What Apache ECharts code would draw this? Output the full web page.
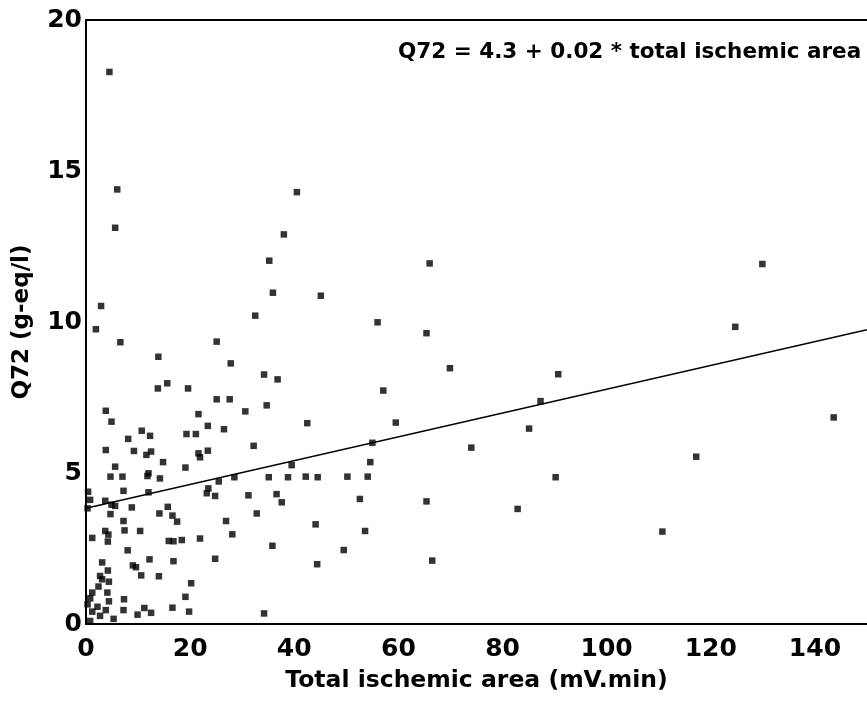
<!DOCTYPE html>
<html>
<head>
<meta charset="utf-8">
<title>Q72 vs total ischemic area</title>
<script src="https://cdn.jsdelivr.net/npm/echarts@6/dist/echarts.min.js"></script>
<style>
  html, body { margin: 0; padding: 0; background: #fff; }
  #chart { width: 867px; height: 717px; }
</style>
</head>
<body>
<div id="chart"></div>
<script>
// Total ischemic area per patient (mV.min)
const ischemicArea = [
  4.5, 6.0, 5.6, 40.5, 38.0, 35.2, 35.9, 32.5, 2.9, 1.9,
  6.6, 25.1, 13.9, 27.8, 34.2, 36.8, 13.8, 15.6, 19.6, 25.1,
  27.6, 34.7, 30.6, 3.8, 4.9, 21.6, 23.4, 26.5, 10.7, 12.3,
  8.1, 19.3, 21.1, 32.2, 3.8, 9.2, 11.6, 12.5, 21.6, 21.9,
  23.4, 14.8, 5.6, 19.1, 39.5, 12.0, 11.8, 14.2, 4.7, 7.0,
  28.5, 35.1, 38.8, 25.5, 23.5, 23.2, 24.8, 31.2, 36.6, 37.6,
  7.2, 12.0, 0.4, 0.8, 0.3, 3.7, 4.9, 5.6, 8.8, 15.7,
  4.7, 14.1, 16.6, 17.5, 7.2, 26.9, 32.8, 3.7, 7.4, 10.4,
  4.3, 4.2, 1.2, 28.1, 21.9, 15.9, 16.8, 18.4, 35.8, 8.0,
  3.1, 12.2, 16.8, 24.8, 9.0, 9.6, 4.2, 2.7, 10.6, 14.0,
  3.1, 4.4, 2.4, 20.2, 4.1, 1.2, 0.8, 4.4, 7.3, 19.1,
  0.3, 2.2, 3.8, 16.6, 11.2, 7.2, 1.2, 12.5, 19.8, 34.2,
  9.9, 2.7, 5.3, 0.8,
  66.0, 45.1, 56.0, 65.4, 129.9, 124.7, 69.9, 90.7, 57.1, 87.3,
  42.5, 59.5, 85.1, 55.0, 74.0, 54.6, 42.2, 44.5, 50.2, 54.1,
  90.2, 52.6, 65.4, 82.9, 44.1, 53.6, 49.5, 44.4, 66.5, 143.6,
  117.2, 110.7
];

// Q72 (g-eq/l) for the same patients
const q72 = [
  18.28, 14.39, 13.12, 14.30, 12.90, 12.03, 10.97, 10.21, 10.53, 9.76,
  9.33, 9.35, 8.85, 8.63, 8.26, 8.10, 7.80, 7.97, 7.80, 7.44,
  7.44, 7.24, 7.04, 7.06, 6.70, 6.95, 6.56, 6.45, 6.40, 6.23,
  6.13, 6.29, 6.29, 5.90, 5.76, 5.73, 5.60, 5.71, 5.65, 5.52,
  5.74, 5.36, 5.21, 5.18, 5.26, 4.99, 4.90, 4.82, 4.88, 4.88,
  4.86, 4.86, 4.86, 4.72, 4.49, 4.33, 4.24, 4.26, 4.30, 4.03,
  4.41, 4.36, 4.38, 4.11, 3.83, 4.08, 3.95, 3.91, 3.86, 3.88,
  3.64, 3.66, 3.59, 3.39, 3.41, 3.41, 3.66, 3.08, 3.10, 3.08,
  2.96, 2.73, 2.85, 2.97, 2.83, 2.75, 2.74, 2.78, 2.59, 2.44,
  2.04, 2.14, 2.08, 2.16, 1.94, 1.88, 1.77, 1.59, 1.61, 1.58,
  1.48, 1.40, 1.24, 1.35, 1.04, 1.04, 0.85, 0.75, 0.82, 0.90,
  0.65, 0.57, 0.46, 0.54, 0.53, 0.46, 0.41, 0.37, 0.41, 0.35,
  0.31, 0.27, 0.17, 0.10,
  11.94, 10.87, 9.99, 9.63, 11.92, 9.84, 8.47, 8.27, 7.73, 7.38,
  6.65, 6.67, 6.47, 6.00, 5.84, 5.36, 4.88, 4.86, 4.88, 4.88,
  4.86, 4.14, 4.06, 3.81, 3.30, 3.08, 2.45, 1.98, 2.10, 6.84,
  5.54, 3.06
];

// Regression line end points as drawn on the plot
const fitX = [0, 150];
const fitY = [3.83, 9.74];

// Axis ranges and tick steps
const xRange = [0, 150];
const xStep = 20;
const yRange = [0, 20];
const yStep = 5;

const equationText = 'Q72 = 4.3 + 0.02 * total ischemic area';
const xTitle = 'Total ischemic area (mV.min)';
const yTitle = 'Q72 (g-eq/l)';

const FONT = '"DejaVu Sans", "Liberation Sans", Arial, sans-serif';

const points = ischemicArea.map((x, i) => [x, q72[i]]);
const fitLine = fitX.map((x, i) => [x, fitY[i]]);

const chart = echarts.init(document.getElementById('chart'), null, { renderer: 'canvas' });

chart.setOption({
  backgroundColor: '#ffffff',
  animation: false,
  grid: { left: 86, right: 0, top: 20, bottom: 93 },
  xAxis: [
    {
      type: 'value',
      min: xRange[0],
      max: xRange[1],
      interval: xStep,
      name: xTitle,
      nameLocation: 'middle',
      nameGap: 45,
      nameTextStyle: { fontFamily: FONT, fontWeight: 'bold', fontSize: 23.5, color: '#000' },
      axisLine: { show: true, onZero: false, lineStyle: { color: '#000', width: 2 } },
      axisTick: { show: false },
      splitLine: { show: false },
      axisLabel: {
        showMaxLabel: false,
        margin: 13,
        fontFamily: FONT,
        fontWeight: 'bold',
        fontSize: 25,
        color: '#000'
      }
    },
    {
      type: 'value',
      position: 'top',
      min: xRange[0],
      max: xRange[1],
      axisLine: { show: true, onZero: false, lineStyle: { color: '#000', width: 2 } },
      axisTick: { show: false },
      axisLabel: { show: false },
      splitLine: { show: false }
    }
  ],
  yAxis: {
    type: 'value',
    min: yRange[0],
    max: yRange[1],
    interval: yStep,
    name: yTitle,
    nameLocation: 'middle',
    nameGap: 52,
    nameRotate: 90,
    nameTextStyle: { fontFamily: FONT, fontWeight: 'bold', fontSize: 23, color: '#000' },
    axisLine: { show: true, onZero: false, lineStyle: { color: '#000', width: 2 } },
    axisTick: { show: false },
    splitLine: { show: false },
    axisLabel: {
      margin: 4,
      fontFamily: FONT,
      fontWeight: 'bold',
      fontSize: 25,
      color: '#000'
    }
  },
  graphic: [
    {
      type: 'text',
      left: 398,
      top: 41,
      style: {
        text: equationText,
        fill: '#000',
        font: 'bold 21.5px ' + FONT
      }
    }
  ],
  series: [
    {
      type: 'scatter',
      data: points,
      symbol: 'rect',
      symbolSize: 6.5,
      itemStyle: { color: '#000' },
      z: 3
    },
    {
      type: 'line',
      data: fitLine,
      symbol: 'none',
      lineStyle: { color: '#000', width: 1.5 },
      z: 2
    }
  ]
});
</script>
</body>
</html>
